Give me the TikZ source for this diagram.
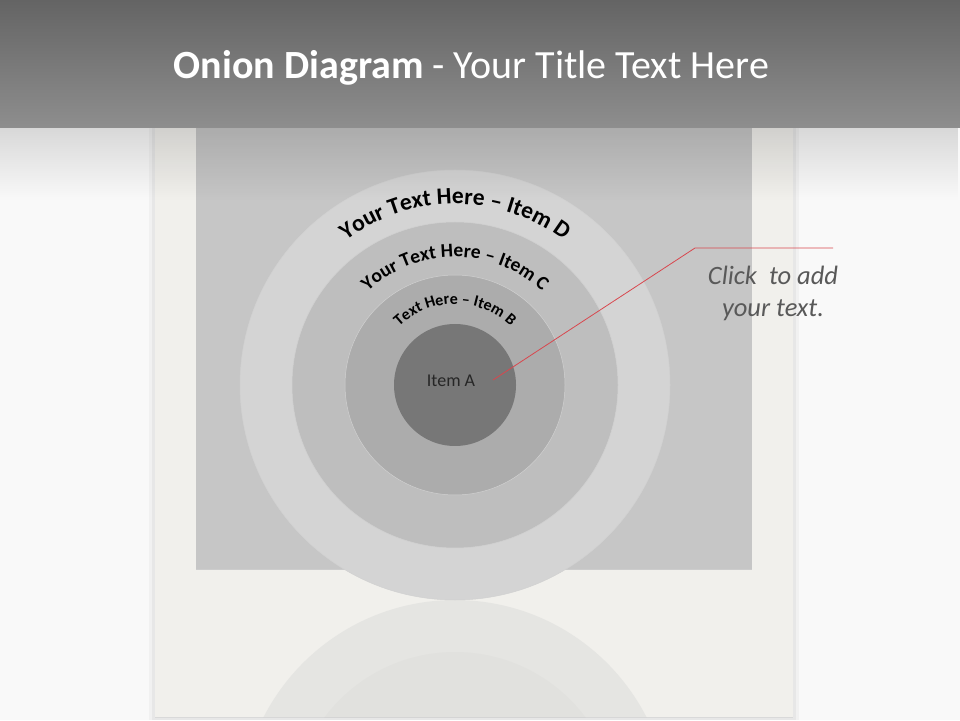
\documentclass[tikz,border=0pt]{standalone}
\usepackage{fontspec}
\setmainfont{Carlito}
\usetikzlibrary{decorations.text, fadings, positioning}
\definecolor{BandTop}{HTML}{646464}
\definecolor{BandBottom}{HTML}{8E8E8E}
\definecolor{PageBack}{HTML}{F9F9F9}
\definecolor{Paper}{HTML}{F1F0EC}
\definecolor{Frame}{HTML}{C6C6C6}
\definecolor{RingD}{HTML}{D4D4D4}
\definecolor{RingC}{HTML}{BEBEBE}
\definecolor{RingB}{HTML}{ACACAC}
\definecolor{CoreA}{HTML}{777777}
\definecolor{CalloutRed}{HTML}{D8474E}
\definecolor{CalloutText}{HTML}{595959}
\tikzfading[name=fadedown, top color=transparent!0, bottom color=transparent!100]

\begin{document}
\begin{tikzpicture}[x=1pt, y=1pt,
    ring/.style={circle, inner sep=0pt, draw=black!18, line width=0.5pt},
    arclabel/.style={decorate, decoration={text along path, text align=center, text={#1}}}]
    \useasboundingbox (0,0) rectangle (960,720);
    \fill[PageBack] (0,0) rectangle (960,720);

    % paper sheet with a soft edge
    \fill[black, opacity=0.03] (149,0) rectangle (799,592);
    \fill[black, opacity=0.04] (152,0) rectangle (796,592);
    \fill[Paper] (155,2) rectangle (793,592);
    \draw[black!15, line width=0.8pt] (155,2.5) -- (793,2.5);
    \fill[Frame] (196,151) rectangle (752,592);
    \draw[black!20, line width=0.6pt] (196,151) -- (752,151);

    % reflection
    \begin{scope}
        \clip (155,3) rectangle (793,151);
        \fill[RingD, opacity=0.38] (455,-95) circle[radius=215];
        \fill[RingC, opacity=0.1] (455,-95) circle[radius=163];
    \end{scope}

    % rings
    \coordinate (ctr) at (455,335);
    \node[ring, fill=RingD, minimum size=430] (ringD) at (ctr) {};
    \node[ring, fill=RingC, minimum size=326] (ringC) at (ctr) {};
    \node[ring, fill=RingB, minimum size=220] (ringB) at (ctr) {};
    \node[ring, fill=CoreA, draw=none, minimum size=122] (coreA) at (ctr) {};
    \node[font=\fontsize{18}{21}\selectfont, text=black!85] (itemA) at (451,339) {Item A};

    \path[arclabel={|\fontsize{23.5}{28}\selectfont\bfseries|Your Text Here – Item D}]
        (ctr) ++(170:181) arc[start angle=170, end angle=10, radius=181];
    \path[arclabel={|\fontsize{19.5}{23}\selectfont\bfseries|Your Text Here – Item C}]
        (ctr) ++(170:128) arc[start angle=170, end angle=10, radius=128];
    \path[arclabel={|\fontsize{16}{19}\selectfont\bfseries|Text Here – Item B}]
        (ctr) ++(170:81) arc[start angle=170, end angle=10, radius=81];

    % title band
    \shade[top color=BandTop, bottom color=BandBottom] (0,592) rectangle (960,720);
    \fill[black, opacity=0.13, path fading=fadedown] (0,520) rectangle (960,592);
    \node[text=white, font=\fontsize{40}{48}\selectfont] (title) at (471.5,652)
        {\textbf{Onion Diagram} - Your Title Text Here};

    % callout
    \coordinate (tip) at (493,340);
    \coordinate (bend) at (695,472);
    \coordinate (tail) at (833,472);
    \draw[CalloutRed, line width=0.8pt] (tip) -- (bend) -- (tail);
    \node[align=center, text=CalloutText, font=\fontsize{26.5}{32}\selectfont\itshape] (callout)
        at (773,427) {Click\ \ to add\\your text.};
\end{tikzpicture}
\end{document}
